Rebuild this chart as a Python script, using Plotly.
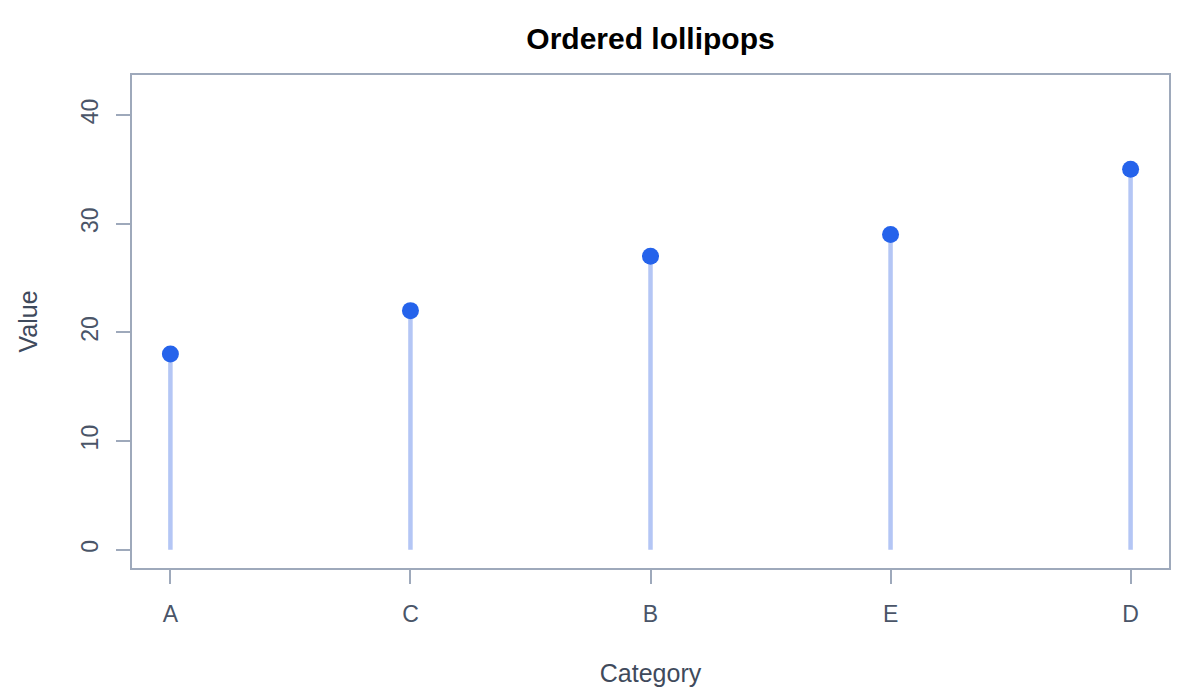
import plotly.graph_objects as go

# Data, already sorted by value
categories = ["A", "C", "B", "E", "D"]
values = [18, 22, 27, 29, 35]
y_ticks = [0, 10, 20, 30, 40]

STEM = "#b4c6f5"
DOT = "#2563eb"
FRAME = "#9ea9bb"
TEXT = "#4a5568"
FONT = "Liberation Sans, Arial, sans-serif"

# stems as one line trace broken with None
stem_x, stem_y = [], []
for c, v in zip(categories, values):
    stem_x += [c, c, None]
    stem_y += [0, v, None]

fig = go.Figure()
fig.add_trace(go.Scatter(x=stem_x, y=stem_y, mode="lines",
                         line=dict(color=STEM, width=4.5),
                         hoverinfo="skip", showlegend=False))
fig.add_trace(go.Scatter(x=categories, y=values, mode="markers",
                         marker=dict(color=DOT, size=17),
                         showlegend=False))

# page adds a small body margin, margins are shifted back to compensate
fig.update_layout(
    width=1200, height=700,
    margin=dict(l=124, r=39, t=67, b=140),
    plot_bgcolor="white", paper_bgcolor="white",
    font=dict(family=FONT, color=TEXT, size=23),
    title=dict(text="<b>Ordered lollipops</b>", x=0.5, xref="paper",
               y=1 - 30 / 700, yref="container", yanchor="middle",
               font=dict(size=30, color="black")),
)
fig.update_xaxes(
    type="category", categoryorder="array", categoryarray=categories,
    range=[-0.16, 4.16],
    showgrid=False, zeroline=False,
    showline=True, mirror=True, linecolor=FRAME, linewidth=1.5,
    ticks="outside", ticklen=14, tickcolor=FRAME, tickwidth=1.5,
    ticklabelstandoff=11,
    title=dict(text="Category", standoff=38, font=dict(size=25, color="#3f4a5c")),
)
fig.update_yaxes(
    range=[-1.68, 43.68],
    tickvals=y_ticks,
    tickangle=-90,
    showgrid=False, zeroline=False,
    showline=True, mirror=True, linecolor=FRAME, linewidth=1.5,
    ticks="outside", ticklen=14, tickcolor=FRAME, tickwidth=1.5,
    ticklabelstandoff=9,
    title=dict(text="Value", standoff=32, font=dict(size=25, color="#3f4a5c")),
)

fig.write_html("out.html")
